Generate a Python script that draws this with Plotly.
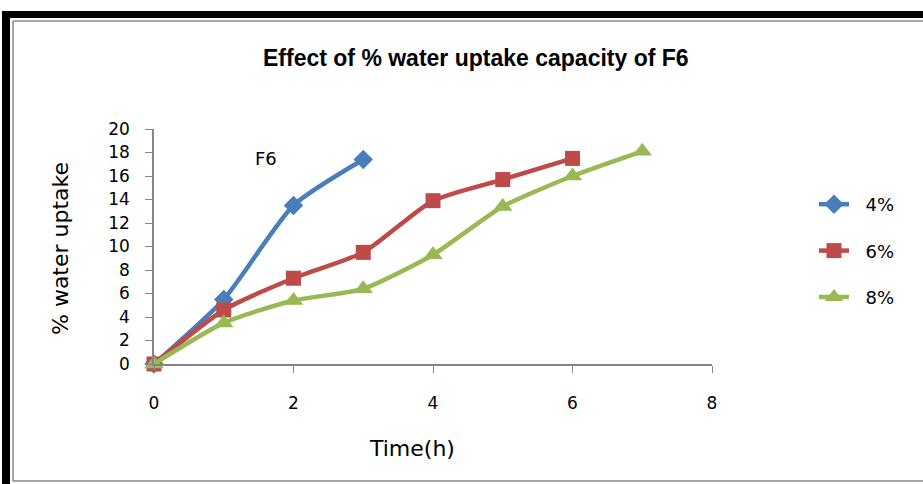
import plotly.graph_objects as go

# Water uptake (%) of formulation F6 at three concentrations
time_h = [0, 1, 2, 3, 4, 5, 6, 7]
series_names = ["4%", "6%", "8%"]
uptake_4 = [0, 5.5, 13.5, 17.4]
uptake_6 = [0, 4.6, 7.3, 9.5, 13.9, 15.7, 17.5]
uptake_8 = [0, 3.5, 5.4, 6.4, 9.3, 13.4, 16.0, 18.1]

colors = ["#4A7EBB", "#BE4B48", "#98B954"]
symbols = ["diamond", "square", "triangle-up"]
marker_sizes = [15, 15, 17]
values = [uptake_4, uptake_6, uptake_8]

FONT = "DejaVu Sans, sans-serif"
TITLE_FONT = "Liberation Sans, Arial, sans-serif"

W, H = 923, 484
L, R, T, B = 154, 712, 129, 364  # plot area in pixels


def px(x):
    return (x - L) / (R - L)


def py(y):
    return (B - y) / (B - T)


fig = go.Figure()
for i, (name, vals) in enumerate(zip(series_names, values)):
    fig.add_trace(go.Scatter(
        x=time_h[:len(vals)], y=vals, name="\u00a0\u00a0" + name, mode="lines+markers",
        line=dict(color=colors[i], width=4.5, shape="spline", smoothing=0.6),
        marker=dict(symbol=symbols[i], size=marker_sizes[i], color=colors[i],
                    line=dict(width=0)),
        cliponaxis=False, legendgroup=name,
    ))

shapes = [
    # outer black frame (top and left)
    dict(type="rect", xref="paper", yref="paper", x0=px(2), x1=px(10), y0=py(484), y1=py(11),
         fillcolor="black", line=dict(width=0), layer="below"),
    dict(type="rect", xref="paper", yref="paper", x0=px(2), x1=px(923), y0=py(18), y1=py(11),
         fillcolor="black", line=dict(width=0), layer="below"),
    # inner gray frame
    dict(type="line", xref="paper", yref="paper", x0=px(13), x1=px(923), y0=py(21), y1=py(21),
         line=dict(color="#8a8a8a", width=1.5)),
    dict(type="line", xref="paper", yref="paper", x0=px(13), x1=px(13), y0=py(21), y1=py(481),
         line=dict(color="#8a8a8a", width=1.5)),
    dict(type="line", xref="paper", yref="paper", x0=px(13), x1=px(923), y0=py(481), y1=py(481),
         line=dict(color="#8a8a8a", width=1.5)),
]

annotations = [
    dict(text="<b>Effect of % water uptake capacity of F6</b>", xref="paper", yref="paper",
         x=px(476), y=py(58), showarrow=False, font=dict(family=TITLE_FONT, size=23, color="black"),
         xanchor="center", yanchor="middle"),
    dict(text="F6", x=1.6, y=17.5, xref="x", yref="y", showarrow=False,
         font=dict(family=FONT, size=18, color="black")),
    dict(text="Time(h)", xref="paper", yref="paper", x=px(412), y=py(448), showarrow=False,
         font=dict(family=FONT, size=22, color="black"), xanchor="center", yanchor="middle"),
    dict(text="% water uptake", xref="paper", yref="paper", x=px(60), y=py(249), showarrow=False,
         textangle=-90, font=dict(family=FONT, size=22, color="black"),
         xanchor="center", yanchor="middle"),
]

fig.update_layout(
    width=W, height=H,
    margin=dict(l=L, r=W - R, t=T, b=H - B, pad=0),
    paper_bgcolor="white", plot_bgcolor="white",
    showlegend=True,
    legend=dict(x=px(814), y=py(186), xanchor="left", yanchor="top",
                font=dict(family=FONT, size=18, color="black"),
                tracegroupgap=20, bgcolor="rgba(0,0,0,0)"),
    shapes=shapes, annotations=annotations,
    xaxis=dict(range=[0, 8], tick0=0, dtick=2, showgrid=False, zeroline=False,
               showline=True, linecolor="#868686", linewidth=1.5,
               ticks="outside", ticklen=7, tickcolor="#868686", tickwidth=1,
               ticklabelstandoff=16,
               tickfont=dict(family=FONT, size=17, color="black")),
    yaxis=dict(range=[0, 20], tick0=0, dtick=2, showgrid=False, zeroline=False,
               showline=True, linecolor="#868686", linewidth=1.5,
               ticks="outside", ticklen=7, tickcolor="#868686", tickwidth=1,
               ticklabelstandoff=12,
               tickfont=dict(family=FONT, size=17, color="black")),
)

fig.write_html("out.html")
